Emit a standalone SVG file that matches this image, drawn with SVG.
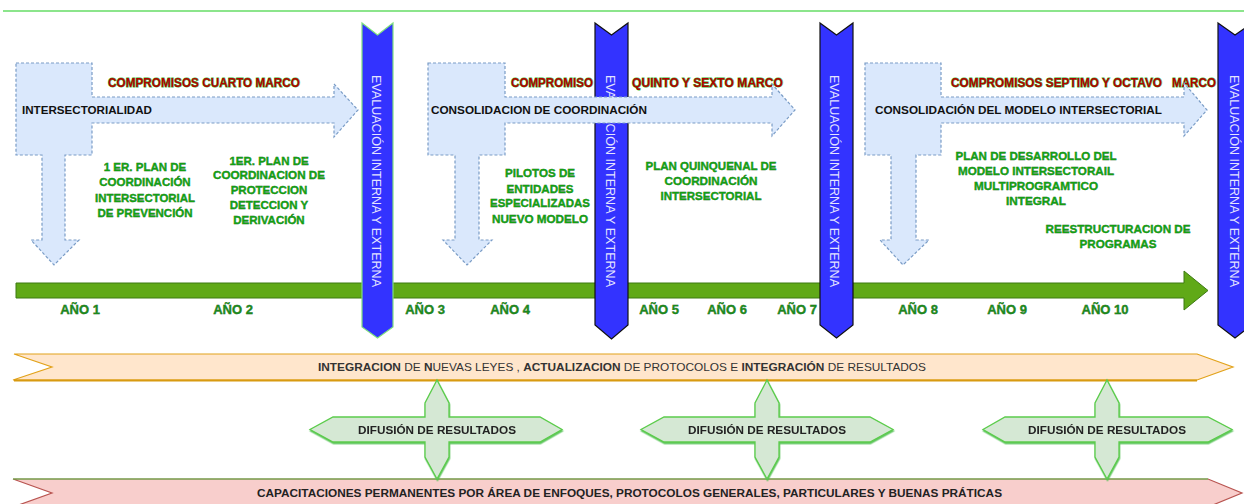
<svg xmlns="http://www.w3.org/2000/svg" width="1244" height="504" viewBox="0 0 1244 504">
<style>
text{font-family:"Liberation Sans",Arial,sans-serif}
.title{font-size:12px;font-weight:bold;fill:#b00000;stroke:#33bb33;stroke-width:0.9;paint-order:stroke}
.lbl{font-size:11.5px;font-weight:bold;fill:#111}
.grn{font-size:11.5px;font-weight:bold;fill:#12a012;stroke:#0a5a0a;stroke-width:0.35;paint-order:stroke;text-anchor:middle}
.yr{font-size:13px;font-weight:bold;fill:#1b8a1b;stroke:#0a4a0a;stroke-width:0.35;paint-order:stroke;text-anchor:middle}
.eval{font-size:12.5px;fill:#e4e4ff;text-anchor:middle;dominant-baseline:central}
.larrow{fill:#dae8fc;stroke:#7a9cc6;stroke-width:1.2;stroke-dasharray:3 2}
.bar{fill:#3333ff}
.cross{fill:#d5e8d4;stroke:#5ccc4c;stroke-width:1.3}
.dif{font-size:11px;font-weight:bold;fill:#222;text-anchor:middle;dominant-baseline:central}
</style>
<defs>
<filter id="sh" x="-5%" y="-20%" width="110%" height="150%"><feDropShadow dx="0.5" dy="1.5" stdDeviation="0.3" flood-color="#4fc04f" flood-opacity="0.9"/></filter>
</defs>
<line x1="3" y1="11" x2="1244" y2="11" stroke="#66dd66" stroke-width="1.5"/>

<g id="titles">
<text class="title" x="108" y="87" textLength="192" lengthAdjust="spacingAndGlyphs">COMPROMISOS CUARTO MARCO</text>
<text class="title" x="511" y="87" textLength="82" lengthAdjust="spacingAndGlyphs">COMPROMISO</text>
<text class="title" x="632" y="87" textLength="151" lengthAdjust="spacingAndGlyphs">QUINTO Y SEXTO  MARCO</text>
<text class="title" x="951" y="87"><tspan textLength="211" lengthAdjust="spacingAndGlyphs">COMPROMISOS SEPTIMO Y OCTAVO</tspan><tspan x="1172" textLength="44" lengthAdjust="spacingAndGlyphs">MARCO</tspan></text>
</g>

<g id="timeline">
<polygon points="16,283 1184,283 1184,271 1208,290.5 1184,310 1184,298 16,298" fill="#60a917" stroke="#3d7a12" stroke-width="1"/>
</g>

<g id="eval1">
<polygon class="bar" points="362,23 377.5,35 393,23 393,327 377.5,338 362,327" stroke="#7fe07f" stroke-width="1.2"/>
<text class="eval" transform="translate(376,181) rotate(90)" textLength="212" lengthAdjust="spacingAndGlyphs">EVALUACIÓN INTERNA Y EXTERNA</text>
</g>
<g id="eval2">
<polygon class="bar" points="595,23 611.5,35 628,23 628,325 611.5,339 595,325" stroke="#111" stroke-width="1.2"/>
<text class="eval" transform="translate(610,181) rotate(90)" textLength="212" lengthAdjust="spacingAndGlyphs">EVALUACIÓN INTERNA Y EXTERNA</text>
</g>
<g id="eval3">
<polygon class="bar" points="820,23 836.5,35 853,23 853,325 836.5,338 820,325" stroke="#111" stroke-width="1.2"/>
<text class="eval" transform="translate(834,181) rotate(90)" textLength="212" lengthAdjust="spacingAndGlyphs">EVALUACIÓN INTERNA Y EXTERNA</text>
</g>
<g id="eval4">
<polygon class="bar" points="1218,23 1235,35 1252,23 1252,325 1235,338 1218,325" stroke="#111" stroke-width="1.2"/>
<text class="eval" transform="translate(1233.5,181) rotate(90)" textLength="212" lengthAdjust="spacingAndGlyphs">EVALUACIÓN INTERNA Y EXTERNA</text>
</g>

<g id="phase1">
<polygon class="larrow" points="16,63 92,63 92,97 334,97 334,84 358,110 334,137 334,123 92,123 92,155 65,155 65,240 79,240 54,265 31,240 42,240 42,155 16,155"/>
<text class="lbl" x="22" y="114" textLength="130" lengthAdjust="spacingAndGlyphs">INTERSECTORIALIDAD</text>
</g>
<g id="phase2">
<polygon class="larrow" points="428,63 505,63 505,97 772,97 772,84 795,110 772,136 772,123 505,123 505,155 479,155 479,240 492,240 467,265 443,240 455,240 455,155 428,155"/>
<text class="lbl" x="431" y="114" textLength="216" lengthAdjust="spacingAndGlyphs">CONSOLIDACION DE COORDINACIÓN</text>
</g>
<g id="phase3">
<polygon class="larrow" points="865,63 941,63 941,97 1184,97 1184,83 1207,110 1184,136 1184,123 941,123 941,155 916,155 916,240 929,240 903,265 880,240 891,240 891,155 865,155"/>
<text class="lbl" x="875" y="114" textLength="287" lengthAdjust="spacingAndGlyphs">CONSOLIDACIÓN DEL MODELO INTERSECTORIAL</text>
</g>

<g id="plan1">
<text class="grn" x="145" y="171">1 ER. PLAN DE</text>
<text class="grn" x="145" y="186">COORDINACIÓN</text>
<text class="grn" x="145" y="202" textLength="100" lengthAdjust="spacingAndGlyphs">INTERSECTORIAL</text>
<text class="grn" x="145" y="217">DE PREVENCIÓN</text>
</g>
<g id="plan2">
<text class="grn" x="269" y="165">1ER. PLAN DE</text>
<text class="grn" x="269" y="179" textLength="112" lengthAdjust="spacingAndGlyphs">COORDINACION DE</text>
<text class="grn" x="269" y="194">PROTECCION</text>
<text class="grn" x="269" y="209">DETECCION Y</text>
<text class="grn" x="269" y="224">DERIVACIÓN</text>
</g>
<g id="pilotos">
<text class="grn" x="540" y="177" textLength="70" lengthAdjust="spacingAndGlyphs">PILOTOS DE</text>
<text class="grn" x="540" y="193" textLength="67" lengthAdjust="spacingAndGlyphs">ENTIDADES</text>
<text class="grn" x="540" y="207" textLength="100" lengthAdjust="spacingAndGlyphs">ESPECIALIZADAS</text>
<text class="grn" x="540" y="223" textLength="96" lengthAdjust="spacingAndGlyphs">NUEVO MODELO</text>
</g>
<g id="quinquenal">
<text class="grn" x="711" y="170" textLength="131" lengthAdjust="spacingAndGlyphs">PLAN QUINQUENAL DE</text>
<text class="grn" x="711" y="185" textLength="93" lengthAdjust="spacingAndGlyphs">COORDINACIÓN</text>
<text class="grn" x="711" y="200" textLength="101" lengthAdjust="spacingAndGlyphs">INTERSECTORIAL</text>
</g>
<g id="desarrollo">
<text class="grn" x="1036" y="160" textLength="161" lengthAdjust="spacingAndGlyphs">PLAN DE DESARROLLO DEL</text>
<text class="grn" x="1036" y="175" textLength="156" lengthAdjust="spacingAndGlyphs">MODELO INTERSECTORAIL</text>
<text class="grn" x="1036" y="190" textLength="124" lengthAdjust="spacingAndGlyphs">MULTIPROGRAMTICO</text>
<text class="grn" x="1036" y="205" textLength="60" lengthAdjust="spacingAndGlyphs">INTEGRAL</text>
</g>
<g id="reestructuracion">
<text class="grn" x="1118" y="233" textLength="145" lengthAdjust="spacingAndGlyphs">REESTRUCTURACION DE</text>
<text class="grn" x="1118" y="248" textLength="77" lengthAdjust="spacingAndGlyphs">PROGRAMAS</text>
</g>

<g id="years">
<text class="yr" x="80" y="314">AÑO 1</text>
<text class="yr" x="233" y="314">AÑO 2</text>
<text class="yr" x="425" y="314">AÑO 3</text>
<text class="yr" x="510" y="314">AÑO 4</text>
<text class="yr" x="659" y="314">AÑO 5</text>
<text class="yr" x="727" y="314">AÑO 6</text>
<text class="yr" x="797" y="314">AÑO 7</text>
<text class="yr" x="918" y="314">AÑO 8</text>
<text class="yr" x="1007" y="314">AÑO 9</text>
<text class="yr" x="1105" y="314">AÑO 10</text>
</g>

<g id="integracion">
<polygon points="14,354 1197,354 1233,367 1197,380 13,380 52,367" fill="#ffe6cc" stroke="#e2a21a" stroke-width="1.2"/>
<line x1="14" y1="380.5" x2="1197" y2="380.5" stroke="#d89a10" stroke-width="2"/>
<text x="318" y="371" font-size="11px" fill="#333" textLength="608" lengthAdjust="spacingAndGlyphs"><tspan font-weight="bold">INTEGRACION</tspan> DE <tspan font-weight="bold">N</tspan>UEVAS LEYES , <tspan font-weight="bold">ACTUALIZACION</tspan> DE PROTOCOLOS  E <tspan font-weight="bold">INTEGRACIÓN</tspan> DE RESULTADOS</text>
</g>

<g id="capacitaciones">
<polygon points="13,479 1208,479 1242,493 1208,507 13,507 52,493" fill="#f8cecc" stroke="#b85450" stroke-width="1.2"/>
<line x1="13" y1="479" x2="1208" y2="479" stroke="#55bb44" stroke-width="1.2"/>
<text x="257" y="497" font-size="11px" font-weight="bold" fill="#222" textLength="745" lengthAdjust="spacingAndGlyphs">CAPACITACIONES PERMANENTES POR ÁREA DE ENFOQUES, PROTOCOLOS GENERALES, PARTICULARES Y BUENAS PRÁTICAS</text>
</g>

<g id="difusion1" filter="url(#sh)">
<polygon class="cross" points="437,380 449,403 449,417 540,417 562,429.5 540,442 449,442 449,457 437,479 425,457 425,442 333,442 310,429.5 333,417 425,417 425,403"/>
<text class="dif" x="437" y="429.5" textLength="158" lengthAdjust="spacingAndGlyphs">DIFUSIÓN DE RESULTADOS</text>
</g>
<g id="difusion2" filter="url(#sh)">
<polygon class="cross" points="767,380 779,403 779,417 870,417 893,429.5 870,442 779,442 779,457 767,479 755,457 755,442 664,442 641,429.5 664,417 755,417 755,403"/>
<text class="dif" x="767" y="429.5" textLength="158" lengthAdjust="spacingAndGlyphs">DIFUSIÓN DE RESULTADOS</text>
</g>
<g id="difusion3" filter="url(#sh)">
<polygon class="cross" points="1107,380 1119,403 1119,417 1208,417 1232,429.5 1208,442 1119,442 1119,457 1107,479 1095,457 1095,442 1005,442 983,429.5 1005,417 1095,417 1095,403"/>
<text class="dif" x="1107" y="429.5" textLength="158" lengthAdjust="spacingAndGlyphs">DIFUSIÓN DE RESULTADOS</text>
</g>
</svg>
